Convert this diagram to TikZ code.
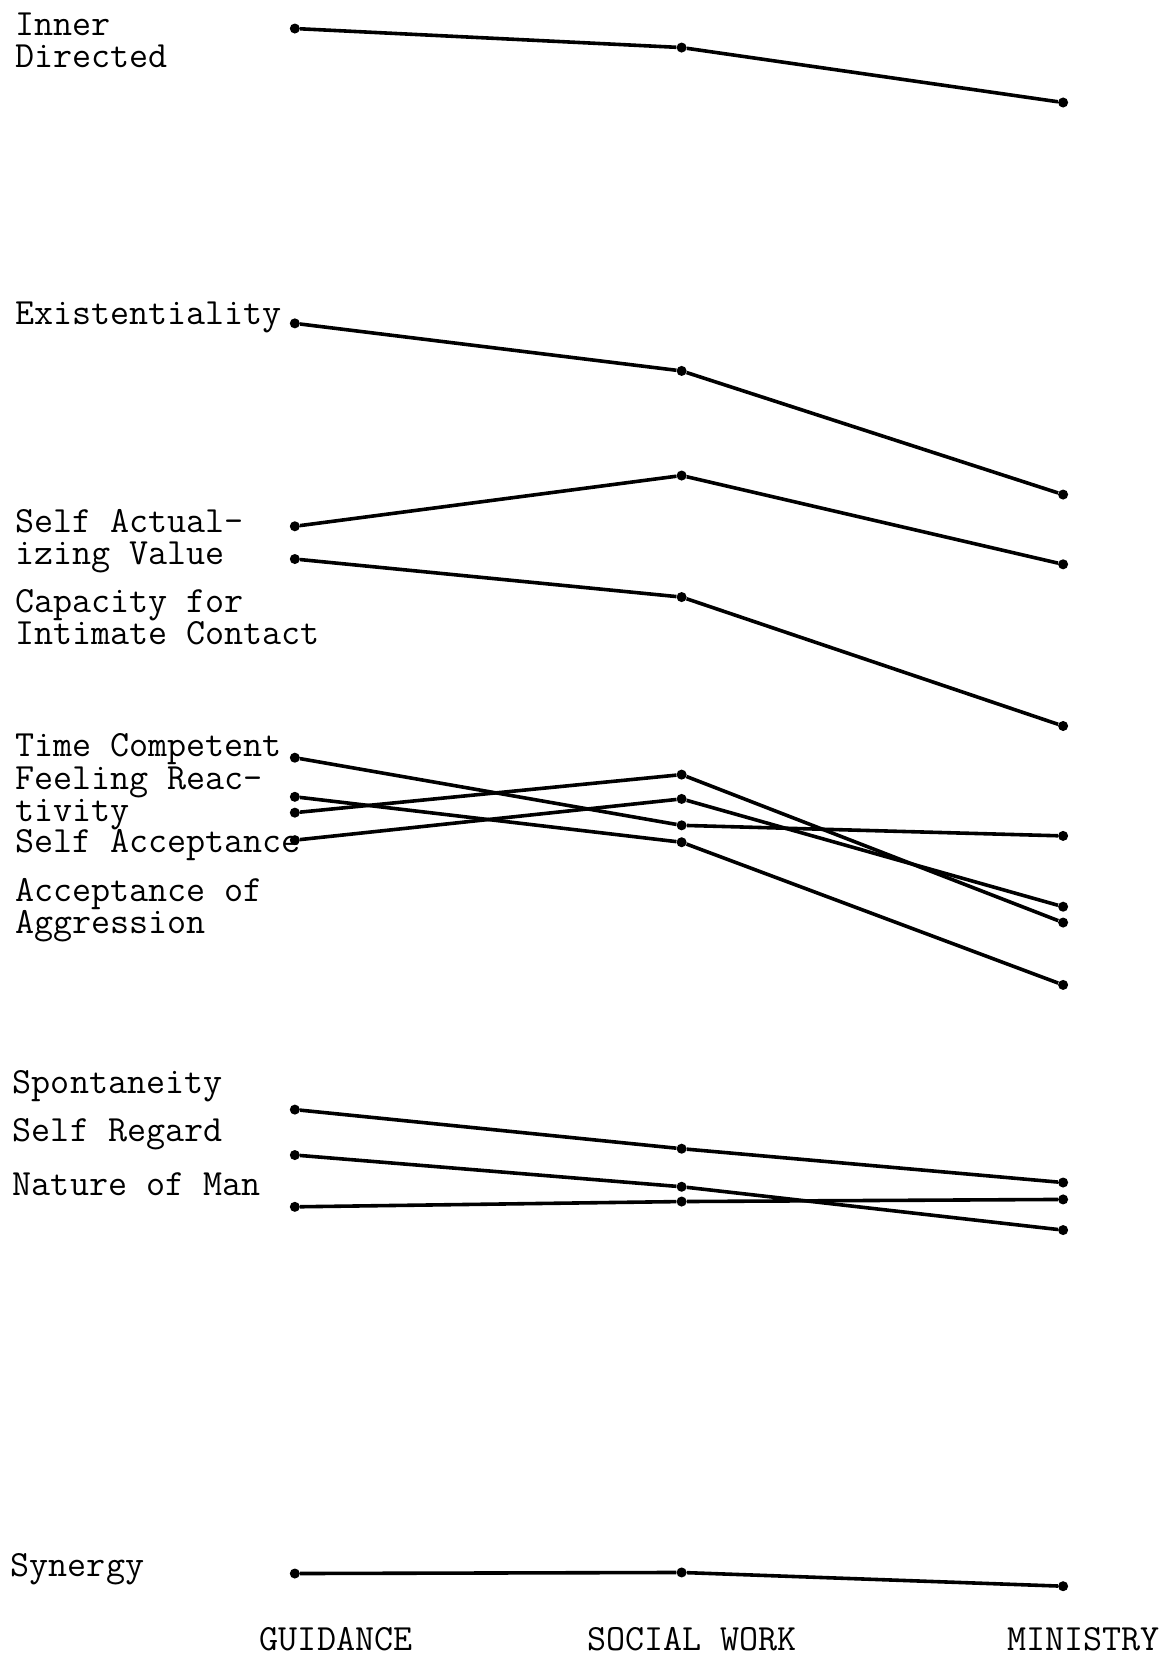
\documentclass[tikz,border=0pt]{standalone}
\usepackage{tikz}
\newcommand{\tw}{\fontsize{35}{30}\selectfont\ttfamily}

\begin{document}
\begin{tikzpicture}[
    x=1pt, y=-1pt,
    font=\tw,
    score/.style={circle, fill=black, inner sep=0pt, minimum size=9.5pt},
    trend/.style={line width=3.4pt, draw=black},
    lbl/.style={anchor=base west, align=left, inner sep=0pt},
    grp/.style={anchor=base, inner sep=0pt},
  ]
  \useasboundingbox[fill=white] (0,0) rectangle (1102,1568);
  % scale names (base = last line)
  \node[lbl] (l-id) at (14,64) {Inner\\Directed};
  \node[lbl] (l-ex) at (14,307) {Existentiality};
  \node[lbl] (l-sav) at (14,534) {Self Actual-\\izing Value};
  \node[lbl] (l-ci) at (14,610) {Capacity for\\Intimate Contact};
  \node[lbl] (l-tc) at (14,716) {Time Competent};
  \node[lbl] (l-fr) at (14,777) {Feeling Reac-\\tivity};
  \node[lbl] (l-sa) at (14,807) {Self Acceptance};
  \node[lbl] (l-ag) at (14,883) {Acceptance of\\Aggression};
  \node[lbl] (l-sp) at (12,1035) {Spontaneity};
  \node[lbl] (l-sr) at (12,1080) {Self Regard};
  \node[lbl] (l-nc) at (12,1131) {Nature of Man};
  \node[lbl] (l-sy) at (10,1492) {Synergy};
  % groups
  \node[grp] (g-gd) at (318,1562) {GUIDANCE};
  \node[grp] (g-sw) at (655,1562) {SOCIAL WORK};
  \node[grp] (g-mn) at (1025,1562) {MINISTRY};
  % profiles: guidance / social work / ministry
  \foreach \n/\g/\s/\m in {id/27/45/97, ex/306/351/468, sav/498/450/534,
      ci/529/565/687, tc/717/781/791, fr/754/797/932, sa/769/733/873,
      ag/795/756/858, sp/1050/1087/1119, sr/1093/1123/1164,
      nc/1142/1137/1135, sy/1489/1488/1501}{
    \node[score] (\n-g) at (279,\g) {};
    \node[score] (\n-s) at (645,\s) {};
    \node[score] (\n-m) at (1006,\m) {};
    \draw[trend] (\n-g) -- (\n-s) -- (\n-m);
  }
\end{tikzpicture}
\end{document}
